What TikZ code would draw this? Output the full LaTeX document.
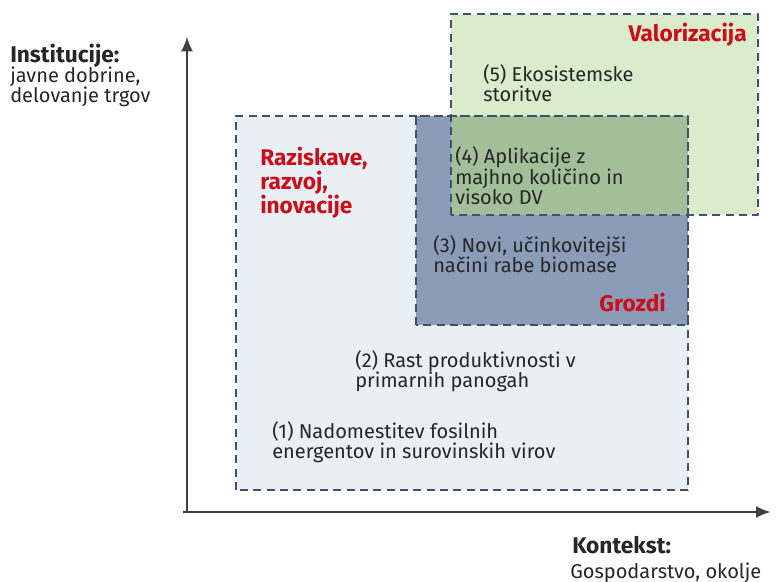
\documentclass[tikz,border=0pt]{standalone}
\usepackage{fontspec}
\setmainfont{Fira Sans}
\usetikzlibrary{arrows.meta}
\begin{document}
\begin{tikzpicture}[>={Latex[length=11bp,width=9bp]},line join=bevel,
  zone/.style={draw=zoneline,dash pattern=on 6bp off 4bp,line width=1.1bp},
  lbl/.style={anchor=base west,align=left,inner sep=0pt,text=textgray,font=\fontsize{15bp}{15.5bp}\selectfont},
  tag/.style={inner sep=0pt,text=tagred,font=\bfseries\fontsize{17bp}{17.5bp}\selectfont},
  axislbl/.style={anchor=base west,inner sep=0pt,text=textgray,font=\bfseries\fontsize{17bp}{18bp}\selectfont}]
  \definecolor{zoneline}{rgb}{0.24,0.32,0.44};
  \definecolor{tagred}{rgb}{0.80,0.05,0.10};
  \definecolor{textgray}{rgb}{0.15,0.15,0.15};
  \definecolor{axisgray}{rgb}{0.25,0.25,0.25};
  \definecolor{rdifill}{rgb}{0.91,0.94,0.96};
  \definecolor{grozdifill}{rgb}{0.54,0.61,0.72};
  \definecolor{valorfill}{rgb}{0.86,0.925,0.80};
  \definecolor{mixfill}{rgb}{0.64,0.75,0.60};
  \useasboundingbox (0bp,0bp) rectangle (582bp,436.5bp);
%%
  % Node: Origin, axis ends
  \coordinate (O) at (140.25bp,52.5bp);
  \coordinate (Xstart) at (137.25bp,52.5bp);
  \coordinate (Ytop) at (140.25bp,409bp);
  \coordinate (Xend) at (578bp,52.5bp);
  % Node: RDI zone
  \path [fill=rdifill] (177bp,69bp) rectangle (516bp,349.5bp);
  % Node: Grozdi zone
  \path [fill=grozdifill] (312bp,192.75bp) rectangle (516bp,349.5bp);
  % Node: Valorizacija zone
  \path [fill=valorfill] (338.25bp,275.25bp) rectangle (568.5bp,426bp);
  \path [fill=mixfill] (338.25bp,275.25bp) rectangle (516bp,349.5bp);
  \draw [zone] (177bp,69bp) rectangle (516bp,349.5bp);
  \draw [zone] (312bp,192.75bp) rectangle (516bp,349.5bp);
  \draw [zone] (338.25bp,275.25bp) rectangle (568.5bp,426bp);
  % Edge: Origin -> Ytop, Origin -> Xend
  \draw [->,draw=axisgray,fill=axisgray,line width=1.5bp] (O) -- (Ytop);
  \draw [->,draw=axisgray,fill=axisgray,line width=1.5bp] (Xstart) -- (Xend);
  % Node: axis labels
  \node [axislbl] (inst) at (7.5bp,389.25bp) {Institucije:};
  \node [lbl] (instsub) at (7.5bp,359.25bp) {javne dobrine,\\delovanje trgov};
  \node [axislbl] (kont) at (429bp,21.75bp) {Kontekst:};
  \node [lbl] (kontsub) at (427.5bp,3bp) {Gospodarstvo, okolje};
  % Node: zone titles
  \node [tag,anchor=base east] (valor) at (560.25bp,405bp) {Valorizacija};
  \node [tag,anchor=base east] (grozdi) at (499.5bp,202.5bp) {Grozdi};
  \node [tag,anchor=base west,align=left] (rdi) at (195bp,276bp) {Raziskave,\\razvoj,\\inovacije};
  % Node: numbered items
  \node [lbl] (i5) at (362.25bp,360bp) {(5) Ekosistemske\\storitve};
  \node [lbl] (i4) at (341.25bp,282.75bp) {(4) Aplikacije z\\majhno količino in\\visoko DV};
  \node [lbl] (i3) at (324.75bp,231.75bp) {(3) Novi, učinkovitejši\\načini rabe biomase};
  \node [lbl] (i2) at (266.25bp,145.5bp) {(2) Rast produktivnosti v\\primarnih panogah};
  \node [lbl] (i1) at (204bp,92.25bp) {(1) Nadomestitev fosilnih\\energentov in surovinskih virov};
%
\end{tikzpicture}
\end{document}
